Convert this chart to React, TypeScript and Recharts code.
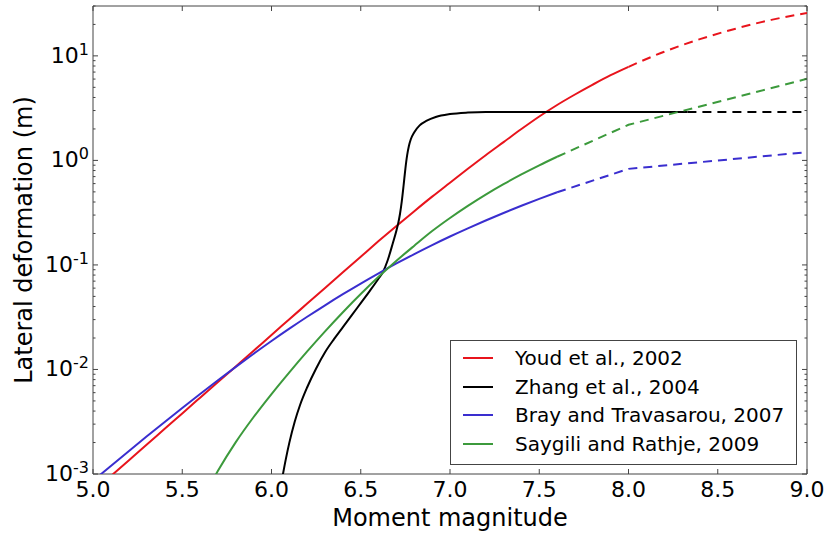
import React from 'react';
import { LineChart, Line, XAxis, YAxis, ReferenceArea, Legend } from 'recharts';

// Youd et al., 2002
const youdM = [5.1, 5.2, 5.3, 5.4, 5.5, 5.6, 5.7, 5.8, 5.9, 6.0, 6.1, 6.2, 6.3, 6.4, 6.5, 6.6, 6.7, 6.8, 6.9, 7.0, 7.1, 7.2, 7.3, 7.4, 7.5, 7.6, 7.7, 7.8, 7.9, 8.0];
const youdD = [0.000955, 0.00135, 0.0019, 0.00269, 0.0038, 0.00537, 0.00759, 0.0107, 0.0151, 0.0214, 0.0302, 0.0427, 0.0603, 0.0851, 0.12, 0.169, 0.236, 0.327, 0.45, 0.612, 0.832, 1.122, 1.496, 1.995, 2.63, 3.39, 4.27, 5.31, 6.53, 7.85];
const youdExtM = [8.0, 8.2, 8.4, 8.6, 8.8, 9.0];
const youdExtD = [7.85, 10.96, 14.45, 18.2, 22.1, 25.7];

// Zhang et al., 2004
const zhangM = [6.06, 6.08, 6.1, 6.13, 6.16, 6.2, 6.25, 6.3, 6.35, 6.4, 6.45, 6.5, 6.55, 6.6, 6.625, 6.65, 6.68, 6.7, 6.71, 6.72, 6.73, 6.74, 6.75, 6.76, 6.77, 6.78, 6.8, 6.83, 6.87, 6.92, 7.0, 7.1, 7.2, 7.6, 8.0, 8.33];
const zhangD = [0.000912, 0.00138, 0.001995, 0.003162, 0.004571, 0.006761, 0.010233, 0.014622, 0.019498, 0.02541, 0.033113, 0.043152, 0.056234, 0.074131, 0.086099, 0.109648, 0.162181, 0.213796, 0.251189, 0.30903, 0.40738, 0.57544, 0.831764, 1.122018, 1.380384, 1.584893, 1.862087, 2.162719, 2.398833, 2.60016, 2.773301, 2.870781, 2.910717, 2.91, 2.91, 2.91];
const zhangExtM = [8.33, 9.0];
const zhangExtD = [2.91, 2.91];

// Bray and Travasarou, 2007
const brayM = [5.0, 5.1, 5.2, 5.3, 5.4, 5.5, 5.6, 5.7, 5.8, 5.9, 6.0, 6.1, 6.2, 6.3, 6.4, 6.5, 6.6, 6.7, 6.8, 6.9, 7.0, 7.1, 7.2, 7.3, 7.4, 7.5, 7.6];
const brayD = [0.000861, 0.001194, 0.001652, 0.00228, 0.003133, 0.004285, 0.005834, 0.007889, 0.010593, 0.014125, 0.018707, 0.024547, 0.031916, 0.041115, 0.052481, 0.066374, 0.083176, 0.103276, 0.127057, 0.154882, 0.187068, 0.223872, 0.266073, 0.314051, 0.368129, 0.428549, 0.49545];
const brayExtM = [7.6, 8.0, 9.0];
const brayExtD = [0.49545, 0.83, 1.2];

// Saygili and Rathje, 2009
const sayM = [5.68, 5.7, 5.8, 5.9, 6.0, 6.1, 6.2, 6.3, 6.4, 6.5, 6.6, 6.7, 6.8, 6.9, 7.0, 7.1, 7.2, 7.3, 7.4, 7.5, 7.6];
const sayD = [0.000933, 0.001072, 0.002018, 0.003508, 0.005821, 0.009397, 0.014894, 0.023174, 0.035318, 0.052723, 0.076913, 0.109648, 0.152757, 0.210863, 0.28119, 0.367282, 0.470977, 0.592925, 0.734514, 0.897441, 1.083927];
const sayExtM = [7.6, 8.0, 9.0];
const sayExtD = [1.083927, 2.19, 6.03];

const xTicks = [5.0, 5.5, 6.0, 6.5, 7.0, 7.5, 8.0, 8.5, 9.0];
const yTicks = [
  0.001, 0.002, 0.003, 0.004, 0.005, 0.006, 0.007, 0.008, 0.009,
  0.01, 0.02, 0.03, 0.04, 0.05, 0.06, 0.07, 0.08, 0.09,
  0.1, 0.2, 0.3, 0.4, 0.5, 0.6, 0.7, 0.8, 0.9,
  1, 2, 3, 4, 5, 6, 7, 8, 9,
  10, 20, 30,
];

const FONT = '"DejaVu Sans", sans-serif';
const AX = '#444';
const LEFT = 93, RIGHT = 807, TOP = 6, BOTTOM = 474;

const RED = '#e8141c';
const BLACK = '#000000';
const BLUE = '#3a2ecf';
const GREEN = '#3c9a3c';

const series = [
  { key: 'youd', name: 'Youd et al., 2002', color: RED },
  { key: 'zhang', name: 'Zhang et al., 2004', color: BLACK },
  { key: 'bray', name: 'Bray and Travasarou, 2007', color: BLUE },
  { key: 'say', name: 'Saygili and Rathje, 2009', color: GREEN },
];

// merge every series into one table keyed by magnitude
const rows: Record<string, any> = {};
const put = (key: string, ms: number[], ds: number[]) => {
  ms.forEach((m, i) => {
    const k = m.toFixed(3);
    if (!rows[k]) rows[k] = { m };
    rows[k][key] = ds[i];
  });
};
put('youd', youdM, youdD);
put('youdExt', youdExtM, youdExtD);
put('zhang', zhangM, zhangD);
put('zhangExt', zhangExtM, zhangExtD);
put('bray', brayM, brayD);
put('brayExt', brayExtM, brayExtD);
put('say', sayM, sayD);
put('sayExt', sayExtM, sayExtD);
const data = Object.values(rows).sort((a: any, b: any) => a.m - b.m);

const XTick = (props: any) => {
  const { x, payload } = props;
  return (
    <g>
      <line x1={x} x2={x} y1={BOTTOM} y2={BOTTOM - 5} stroke={AX} />
      <line x1={x} x2={x} y1={TOP} y2={TOP + 5} stroke={AX} />
      <text x={x} y={BOTTOM + 23} textAnchor="middle" fontSize={22} fill="#000">
        {Number(payload.value).toFixed(1)}
      </text>
    </g>
  );
};

const YTick = (props: any) => {
  const { y, payload } = props;
  const v = Number(payload.value);
  const exp = Math.round(Math.log10(v));
  const major = Math.abs(v / Math.pow(10, exp) - 1) < 1e-6;
  const len = major ? 5 : 2.5;
  return (
    <g>
      <line x1={LEFT} x2={LEFT + len} y1={y} y2={y} stroke={AX} />
      <line x1={RIGHT} x2={RIGHT - len} y1={y} y2={y} stroke={AX} />
      {major && (
        <text x={LEFT - 4} y={y + 7} textAnchor="end" fill="#000">
          <tspan fontSize={22}>10</tspan>
          <tspan fontSize={16} dy={-8}>{exp}</tspan>
        </text>
      )}
    </g>
  );
};

const LegendBox = () => (
  <div
    style={{
      width: 347, height: 125, boxSizing: 'border-box', border: `1px solid ${AX}`,
      background: '#fff', paddingTop: 3, fontFamily: FONT,
    }}
  >
    {series.map((s) => (
      <div key={s.key} style={{ height: 28.5, display: 'flex', alignItems: 'center' }}>
        <span style={{ display: 'inline-block', marginLeft: 12, width: 30, borderTop: `2px solid ${s.color}` }} />
        <span style={{ marginLeft: 22, fontSize: 20, color: '#000', lineHeight: '22px', whiteSpace: 'nowrap' }}>{s.name}</span>
      </div>
    ))}
  </div>
);

export default function App() {
  return (
    <div style={{ position: 'absolute', left: 0, top: 0, fontFamily: FONT, background: '#fff' }}>
      <LineChart width={828} height={535} data={data} margin={{ top: TOP, right: 21, bottom: 0, left: 0 }}>
        <XAxis
          type="number"
          dataKey="m"
          domain={[5, 9]}
          ticks={xTicks}
          interval={0}
          allowDataOverflow
          axisLine={false}
          tickLine={false}
          height={61}
          tick={XTick}
          label={() => (
            <text x={(LEFT + RIGHT) / 2} y={526} textAnchor="middle" fontSize={24} fill="#000">
              Moment magnitude
            </text>
          )}
        />
        <YAxis
          type="number"
          scale="log"
          domain={[0.001, 30]}
          ticks={yTicks}
          interval={0}
          allowDataOverflow
          axisLine={false}
          tickLine={false}
          width={93}
          tick={YTick}
          label={() => (
            <text transform="translate(32,240) rotate(-90)" textAnchor="middle" fontSize={24} fill="#000">
              Lateral deformation (m)
            </text>
          )}
        />
        <ReferenceArea x1={5} x2={9} y1={0.001} y2={30} fill="none" stroke={AX} strokeWidth={1} />
        {series.map((s) => (
          <Line key={s.key} type="monotone" dataKey={s.key} name={s.name} stroke={s.color} strokeWidth={2} dot={false} connectNulls isAnimationActive={false} />
        ))}
        <Line type="monotone" dataKey="youdExt" stroke={RED} strokeWidth={2} strokeDasharray="9 6" dot={false} connectNulls legendType="none" isAnimationActive={false} />
        <Line type="linear" dataKey="zhangExt" stroke={BLACK} strokeWidth={2} strokeDasharray="9 6" dot={false} connectNulls legendType="none" isAnimationActive={false} />
        <Line type="linear" dataKey="brayExt" stroke={BLUE} strokeWidth={2} strokeDasharray="9 6" dot={false} connectNulls legendType="none" isAnimationActive={false} />
        <Line type="linear" dataKey="sayExt" stroke={GREEN} strokeWidth={2} strokeDasharray="9 6" dot={false} connectNulls legendType="none" isAnimationActive={false} />
        <Legend
          layout="horizontal"
          verticalAlign="middle"
          align="center"
          content={LegendBox}
          wrapperStyle={{ left: 450, top: 340, width: 347, height: 125 }}
        />
      </LineChart>
    </div>
  );
}
